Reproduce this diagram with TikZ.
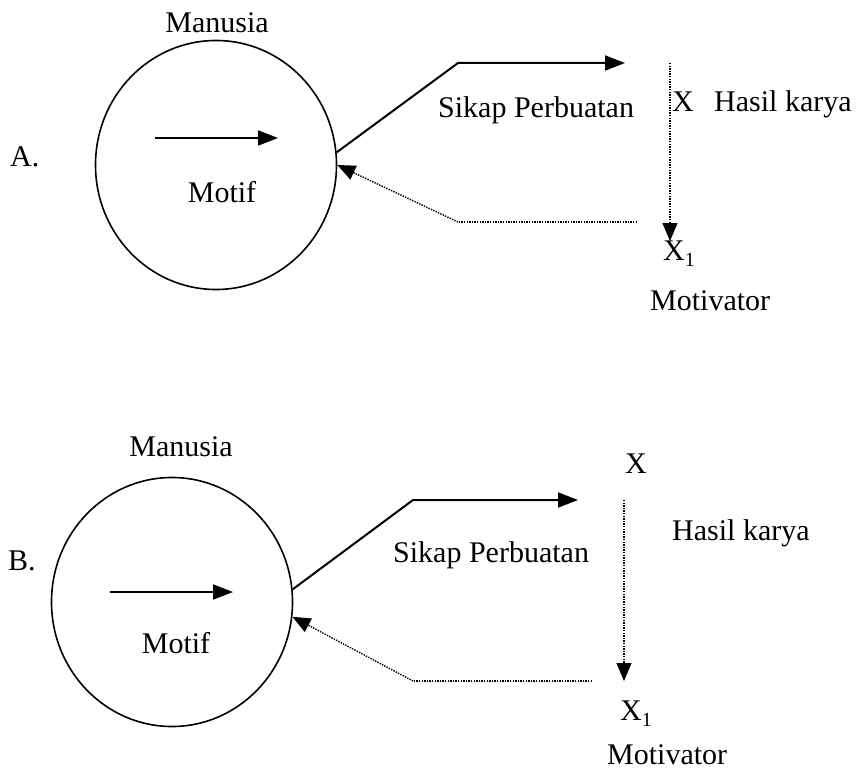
\documentclass[tikz,border=0pt]{standalone}
\usepackage{fontspec}
\setmainfont{Liberation Serif}
\usetikzlibrary{arrows.meta,shapes.geometric}
\begin{document}
\begin{tikzpicture}[x=1pt,y=-1pt,
  lbl/.style={anchor=base west,inner sep=0pt,font=\fontsize{30}{36}\selectfont},
  lblc/.style={anchor=base,inner sep=0pt,font=\fontsize{30}{36}\selectfont},
  orb/.style={draw,ellipse,line width=1.6pt,minimum width=241pt,minimum height=249pt,inner sep=0pt},
  solidarr/.style={line width=2pt,-{Triangle[length=20pt,width=15pt]}},
  dotarr/.style={line width=1.4pt,dash pattern=on 1.4pt off 1.2pt,-{Triangle[length=18pt,width=15pt]}},
  dotline/.style={line width=1.4pt,dash pattern=on 1.4pt off 1.2pt}]
\useasboundingbox (0,0) rectangle (858,770);
\fill[white] (0,0) rectangle (858,770);
% ---------- A ----------
\node[orb] (cA) at (216,165) {};
\node[lblc] (manA) at (217,33) {Manusia};
\node[lbl] (labA) at (10,167) {A.};
\node[lblc] (motA) at (222,202) {Motif};
\coordinate (inA1) at (155,138);
\coordinate (inA2) at (278,138);
\draw[solidarr] (inA1) -- (inA2);
\coordinate (kA) at (458,63);
\coordinate (tA) at (625,63);
\draw[solidarr] (cA.6) -- (kA) -- (tA);
\node[lbl] (sikA) at (438,118) {Sikap Perbuatan};
\node[lbl] (xA) at (672,112) {X};
\node[lbl] (hasA) at (714,112) {Hasil karya};
\coordinate (vA1) at (670,63);
\coordinate (vA2) at (670,241);
\draw[dotarr] (vA1) -- (vA2);
\node[lbl] (x1A) at (663,260) {X\raisebox{-6pt}{\fontsize{20}{20}\selectfont 1}};
\node[lbl] (mtvA) at (650,310) {Motivator};
\coordinate (fA1) at (637,222);
\coordinate (fA2) at (458,222);
\draw[dotline] (fA1) -- (fA2);
\draw[dotarr] (fA2) -- (cA.0);
% ---------- B ----------
\node[orb] (cB) at (172,602) {};
\node[lblc] (manB) at (181,456) {Manusia};
\node[lbl] (labB) at (8,570) {B.};
\node[lblc] (motB) at (176,653) {Motif};
\coordinate (inB1) at (110,592);
\coordinate (inB2) at (233,592);
\draw[solidarr] (inB1) -- (inB2);
\coordinate (kB) at (413,500);
\coordinate (tB) at (578,500);
\draw[solidarr] (cB.6) -- (kB) -- (tB);
\node[lbl] (sikB) at (393,562) {Sikap Perbuatan};
\node[lbl] (xB) at (625,473) {X};
\node[lbl] (hasB) at (672,540) {Hasil karya};
\coordinate (vB1) at (624,500);
\coordinate (vB2) at (624,681);
\draw[dotarr] (vB1) -- (vB2);
\node[lbl] (x1B) at (620,720) {X\raisebox{-6pt}{\fontsize{20}{20}\selectfont 1}};
\node[lbl] (mtvB) at (607,764) {Motivator};
\coordinate (fB1) at (592,681);
\coordinate (fB2) at (413,681);
\draw[dotline] (fB1) -- (fB2);
\draw[dotarr] (fB2) -- (cB.-7);
\end{tikzpicture}
\end{document}
